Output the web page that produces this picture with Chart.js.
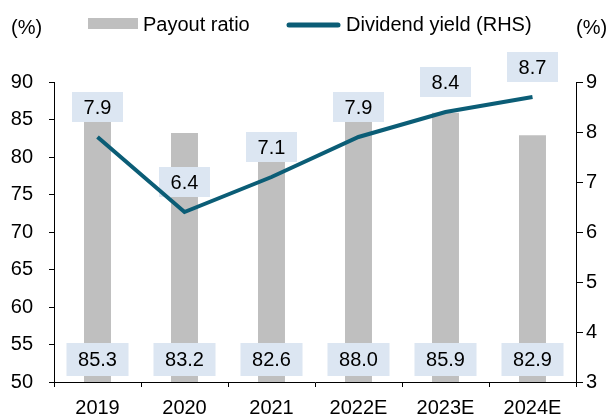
<!DOCTYPE html>
<html lang="en">
<head>
  <meta charset="UTF-8" />
  <title>Payout ratio and dividend yield</title>
  <script src="https://cdn.jsdelivr.net/npm/chart.js"></script>
  <style>
    html, body { margin: 0; padding: 0; background: #fff; }
    #wrap { width: 611px; height: 416px; }
  </style>
</head>
<body>
  <div id="wrap"><canvas id="graphe"></canvas></div>
<script>
  // donnees
  const years = ['2019', '2020', '2021', '2022E', '2023E', '2024E'];
  const payoutRatio = [85.3, 83.2, 82.6, 88.0, 85.9, 82.9];
  const dividendYield = [7.9, 6.4, 7.1, 7.9, 8.4, 8.7];

  const FONT = '"Liberation Sans", Arial, sans-serif';
  const BOX = '#dce6f2';
  const TEAL = '#0b5d76';

  // etiquettes dans les boites bleues + legende
  const labelsPlugin = {
    id: 'labelsPlugin',
    afterDatasetDraw(chart, args) {
      if (args.index !== 0) return;
      const ctx = chart.ctx;
      const bottom = chart.chartArea.bottom;
      ctx.save();
      ctx.font = '20px ' + FONT;
      ctx.textAlign = 'center';
      ctx.textBaseline = 'middle';
      // barres : en bas
      chart.getDatasetMeta(0).data.forEach((bar, i) => {
        const w = 62, h = 33;
        const y0 = bottom - 6 - h;
        ctx.fillStyle = BOX;
        ctx.fillRect(bar.x - w / 2, y0, w, h);
        ctx.fillStyle = '#000';
        ctx.fillText(payoutRatio[i].toFixed(1), bar.x, y0 + h / 2 + 1);
      });
      // ligne : au dessus du point
      chart.getDatasetMeta(1).data.forEach((pt, i) => {
        const w = 51, h = 30;
        const y0 = pt.y - 15 - h;
        ctx.fillStyle = BOX;
        ctx.fillRect(pt.x - w / 2, y0, w, h);
        ctx.fillStyle = '#000';
        ctx.fillText(dividendYield[i].toFixed(1), pt.x, y0 + h / 2 + 1);
      });
      ctx.restore();
    },
    afterDraw(chart) {
      const ctx = chart.ctx;
      ctx.save();
      ctx.font = '20px ' + FONT;
      ctx.fillStyle = '#000';
      ctx.textAlign = 'left';
      ctx.textBaseline = 'middle';
      ctx.fillText('(%)', 11, 28);
      ctx.fillText('(%)', 576, 28);
      ctx.fillStyle = '#bfbfbf';
      ctx.fillRect(88, 18, 50, 11);
      ctx.fillStyle = '#000';
      ctx.fillText('Payout ratio', 143, 25);
      ctx.strokeStyle = TEAL;
      ctx.lineWidth = 5;
      ctx.lineCap = 'round';
      ctx.beginPath();
      ctx.moveTo(289, 25);
      ctx.lineTo(338, 25);
      ctx.stroke();
      ctx.fillText('Dividend yield (RHS)', 346, 25);
      ctx.restore();
    }
  };

  const ctx = document.getElementById('graphe').getContext('2d');
  new Chart(ctx, {
    data: {
      labels: years,
      datasets: [{
        type: 'bar',
        label: 'Payout ratio',
        data: payoutRatio,
        backgroundColor: '#bfbfbf',
        barPercentage: 0.31,
        categoryPercentage: 1,
        yAxisID: 'y',
        order: 2
      }, {
        type: 'line',
        label: 'Dividend yield (RHS)',
        data: dividendYield,
        borderColor: TEAL,
        backgroundColor: TEAL,
        borderWidth: 4,
        pointRadius: 0,
        tension: 0,
        yAxisID: 'y1',
        order: 1
      }]
    },
    options: {
      responsive: true,
      maintainAspectRatio: false,
      animation: false,
      layout: { padding: { top: 82, left: 0, right: 0, bottom: 0 } },
      plugins: { legend: { display: false }, tooltip: { enabled: false } },
      scales: {
        x: {
          grid: { drawOnChartArea: false, drawTicks: true, tickLength: 5, color: '#000', offset: true },
          border: { color: '#000', width: 1 },
          ticks: { color: '#000', font: { family: FONT, size: 20 }, padding: 9, maxRotation: 0 },
          afterFit(scale) { scale.height = 34; }
        },
        y: {
          position: 'left',
          min: 50, max: 90,
          grid: { drawOnChartArea: false, tickLength: 5, color: '#000' },
          border: { color: '#000', width: 1 },
          ticks: { stepSize: 5, color: '#000', font: { family: FONT, size: 20 }, padding: 16 },
          afterFit(scale) { scale.width = 54; }
        },
        y1: {
          position: 'right',
          min: 3, max: 9,
          grid: { drawOnChartArea: false, tickLength: 7, color: '#000' },
          border: { color: '#000', width: 1 },
          ticks: { stepSize: 1, color: '#000', font: { family: FONT, size: 20 }, padding: 3 },
          afterFit(scale) { scale.width = 35; }
        }
      }
    },
    plugins: [labelsPlugin]
  });
</script>
</body>
</html>
